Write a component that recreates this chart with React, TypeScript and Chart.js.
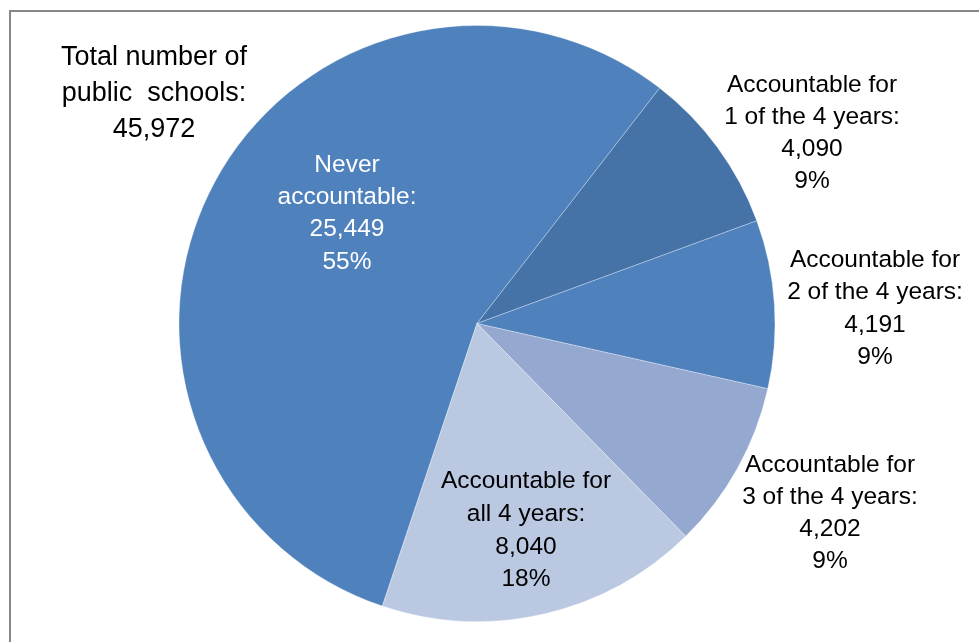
import React, { useEffect, useRef } from "react";
import { Chart, registerables } from "chart.js";

Chart.register(...registerables);

const categories = [
  "Never accountable",
  "Accountable for 1 of the 4 years",
  "Accountable for 2 of the 4 years",
  "Accountable for 3 of the 4 years",
  "Accountable for all 4 years",
];
const schoolCounts = [25449, 4090, 4191, 4202, 8040];
const percentLabels = ["55%", "9%", "9%", "9%", "18%"];
const sliceColors = ["#4F81BD", "#4572A7", "#4F81BD", "#95A9D0", "#BAC8E2"];
const labelLines = [
  ["Never", "accountable:"],
  ["Accountable for", "1 of the 4 years:"],
  ["Accountable for", "2 of the 4 years:"],
  ["Accountable for", "3 of the 4 years:"],
  ["Accountable for", "all 4 years:"],
];
const totalLines = ["Total number of", "public  schools:"];

const FONT = '"Liberation Sans", Arial, sans-serif';

const fmt = (n: number) => n.toLocaleString("en-US");

// text anchor positions (center x, first baseline y, line step, color)
const labelAnchors = [
  { x: 347, y: 172, step: 32.2, color: "#FFFFFF" },
  { x: 812, y: 92, step: 32, color: "#000000" },
  { x: 875, y: 267, step: 32.3, color: "#000000" },
  { x: 830, y: 472, step: 32, color: "#000000" },
  { x: 526, y: 488, step: 32.8, color: "#000000" },
];

const labelsPlugin = {
  id: "customLabels",
  beforeDraw(chart: any) {
    const ctx = chart.ctx;
    ctx.save();
    ctx.strokeStyle = "#878787";
    ctx.lineWidth = 2;
    ctx.beginPath();
    ctx.moveTo(10, chart.height + 5);
    ctx.lineTo(10, 11);
    ctx.lineTo(chart.width + 5, 11);
    ctx.stroke();
    ctx.restore();
  },
  afterDraw(chart: any) {
    const ctx = chart.ctx;
    ctx.save();
    ctx.textAlign = "center";
    ctx.textBaseline = "alphabetic";
    ctx.font = `24.5px ${FONT}`;
    schoolCounts.forEach((v, i) => {
      const a = labelAnchors[i];
      const lines = [...labelLines[i], fmt(v), percentLabels[i]];
      ctx.fillStyle = a.color;
      lines.forEach((t, j) => ctx.fillText(t, a.x, a.y + j * a.step));
    });
    const total = schoolCounts.reduce((s, v) => s + v, 0);
    ctx.font = `27px ${FONT}`;
    ctx.fillStyle = "#000000";
    [...totalLines, fmt(total)].forEach((t, j) => ctx.fillText(t, 154, 65 + j * 35.8));
    ctx.restore();
  },
};

export default function App() {
  const ref = useRef<HTMLCanvasElement | null>(null);
  useEffect(() => {
    if (!ref.current) return;
    const total = schoolCounts.reduce((s, v) => s + v, 0);
    const startDeg = 360 - (schoolCounts[0] / total) * 360 + 37.8;
    const chart = new Chart(ref.current, {
      type: "pie",
      data: {
        labels: categories,
        datasets: [
          {
            data: schoolCounts,
            backgroundColor: sliceColors,
            borderColor: "rgba(255,255,255,0.3)",
            borderWidth: 1,
          },
        ],
      },
      options: {
        responsive: false,
        animation: false,
        rotation: startDeg,
        layout: { padding: { left: 0, right: 25, top: 25, bottom: 20 } },
        plugins: {
          legend: { display: false },
          tooltip: { enabled: false },
          title: { display: false },
        },
      },
      plugins: [labelsPlugin],
    });
    return () => chart.destroy();
  }, []);
  return (
    <div style={{ position: "fixed", left: 0, top: 0, width: 979, height: 642, background: "#fff" }}>
      <canvas ref={ref} width={979} height={642} style={{ display: "block" }} />
    </div>
  );
}
